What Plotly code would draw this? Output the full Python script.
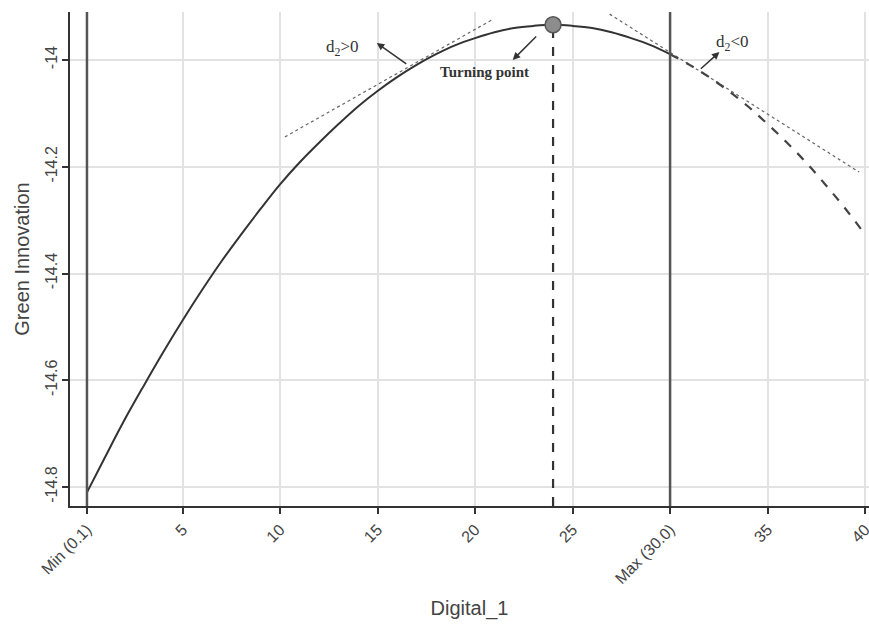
import plotly.graph_objects as go

# Fitted curve (solid part, within the data range)
curve_x = [0.1, 1, 2, 3, 4, 5, 6, 7, 8, 9, 10, 11, 12, 13, 14, 15, 16, 17, 18, 19,
           20, 21, 22, 23, 24, 25, 26, 27, 28, 29, 30]
curve_y = [-14.810, -14.746, -14.676, -14.611, -14.548, -14.488, -14.431, -14.377,
           -14.327, -14.279, -14.233, -14.192, -14.155, -14.120, -14.087, -14.058,
           -14.032, -14.009, -13.989, -13.972, -13.959, -13.948, -13.940, -13.936,
           -13.934, -13.936, -13.940, -13.948, -13.959, -13.972, -13.989]
# Extrapolated (dashed) part beyond the max
ext_x = [30, 31, 32, 33, 34, 35, 36, 37, 38, 39, 40]
ext_y = [-13.989, -14.009, -14.032, -14.058, -14.087, -14.120, -14.155, -14.193,
         -14.235, -14.279, -14.327]

tan1_x = [10.25, 20.85]
tan1_y = [-14.144, -13.925]
tan2_x = [26.9, 39.7]
tan2_y = [-13.914, -14.210]

turn_x = [24.0]
turn_y = [-13.934]
min_x = 0.1
max_x = 30.0

x_tickvals = [0.1, 5, 10, 15, 20, 25, 30, 35, 40]
x_ticktext = ["Min (0.1)", "5", "10", "15", "20", "25", "Max (30.0)", "35", "40"]
y_tickvals = [-14.8, -14.6, -14.4, -14.2, -14.0]
y_ticktext = ["-14.8", "-14.6", "-14.4", "-14.2", "-14"]

XR = [-0.77, 40.2]
YR = [-14.8356, -13.910]

fig = go.Figure()

for vx in [min_x, max_x]:
    fig.add_shape(type="line", xref="x", yref="paper", x0=vx, x1=vx, y0=0, y1=1,
                  line=dict(color="#555555", width=2.5))

fig.add_trace(go.Scatter(x=[turn_x[0], turn_x[0]], y=[YR[0], turn_y[0]], mode="lines",
                         line=dict(color="#333333", width=2.2, dash="dash"),
                         hoverinfo="skip", showlegend=False))

for tx, ty in [(tan1_x, tan1_y), (tan2_x, tan2_y)]:
    fig.add_trace(go.Scatter(x=tx, y=ty, mode="lines",
                             line=dict(color="#666666", width=1.2, dash="dot"),
                             showlegend=False))

fig.add_trace(go.Scatter(x=curve_x, y=curve_y, mode="lines", line_shape="spline",
                         line=dict(color="#333333", width=2), showlegend=False))
fig.add_trace(go.Scatter(x=ext_x, y=ext_y, mode="lines", line_shape="spline",
                         line=dict(color="#444444", width=2.2, dash="dash"), showlegend=False))

fig.add_trace(go.Scatter(x=turn_x, y=turn_y, mode="markers",
                         marker=dict(size=16, color="#8c8c8c", line=dict(color="#555555", width=1.5)),
                         showlegend=False))

serif = "Liberation Serif, Times New Roman, serif"
ann = []
for head, tail in [((14.96, -13.968), (16.55, -14.009)),
                   ((21.93, -14.0), (23.21, -13.953)),
                   ((32.53, -13.985), (31.5, -14.019))]:
    ann.append(dict(x=head[0], y=head[1], ax=tail[0], ay=tail[1], xref="x", yref="y",
                    axref="x", ayref="y", text="", showarrow=True, arrowhead=2,
                    arrowsize=1, arrowwidth=1.5, arrowcolor="#333333"))
ann.append(dict(x=13.2, y=-13.978, text="d<sub>2</sub>&gt;0", showarrow=False,
                font=dict(family=serif, size=17, color="#333333")))
ann.append(dict(x=20.5, y=-14.023, text="<b>Turning point</b>", showarrow=False,
                font=dict(family=serif, size=15, color="#333333")))
ann.append(dict(x=33.2, y=-13.968, text="d<sub>2</sub>&lt;0", showarrow=False,
                font=dict(family=serif, size=17, color="#333333")))

sans = "Liberation Sans, Arial, sans-serif"
fig.update_layout(
    width=869, height=633,
    margin=dict(l=70, r=0, t=12, b=127),
    plot_bgcolor="white", paper_bgcolor="white",
    font=dict(family=sans, color="#444444"),
    annotations=ann,
    xaxis=dict(range=XR, tickvals=x_tickvals, ticktext=x_ticktext, tickangle=-45,
               automargin=False, ticklabeloverflow="allow",
               showgrid=True, gridcolor="#e2e2e2", gridwidth=2, zeroline=False,
               showline=True, linecolor="#333333", linewidth=2,
               ticks="outside", ticklen=6, tickcolor="#333333", tickwidth=1.5,
               tickfont=dict(size=16, color="#444444"),
               title=dict(text="Digital_1", font=dict(size=20, color="#444444"), standoff=15)),
    yaxis=dict(range=YR, tickvals=y_tickvals, ticktext=y_ticktext, tickangle=-90,
               automargin=False, ticklabelstandoff=-1,
               showgrid=True, gridcolor="#e2e2e2", gridwidth=2, zeroline=False,
               showline=True, linecolor="#333333", linewidth=2,
               ticks="outside", ticklen=6, tickcolor="#333333", tickwidth=1.5,
               tickfont=dict(size=16, color="#444444"),
               title=dict(text="Green Innovation", font=dict(size=20, color="#444444"), standoff=8)),
)

fig.write_html("out.html", config={"displayModeBar": False},
               post_script="document.body.style.margin='0';document.body.style.overflow='hidden';")
